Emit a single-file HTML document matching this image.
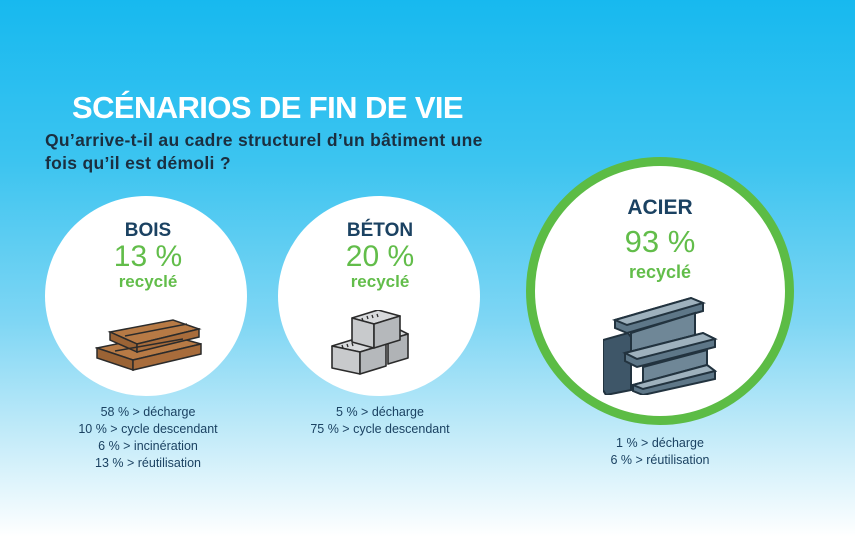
<!DOCTYPE html>
<html><head><meta charset="utf-8"><style>
*{margin:0;padding:0}
body{width:855px;height:537px;overflow:hidden;position:relative;font-family:"Liberation Sans",sans-serif;
background:linear-gradient(180deg,#17b9ef 0%,#3cc4f0 30%,#7fd6f4 60%,#c6ecf9 82%,#ffffff 100%);}
.a{position:absolute}
.t{position:absolute;text-align:center;white-space:nowrap}
.circ{position:absolute;border-radius:50%;background:#fff;box-sizing:border-box}
.h{color:#1b4262;font-weight:bold}
.p{color:#62bd4a}
.r{color:#62bd4a;font-weight:bold}
.s{color:#1b4262;font-size:12.5px;line-height:17px}
</style></head><body>
<div class="a" style="left:72px;top:90px;font-size:31px;font-weight:bold;color:#fff;letter-spacing:-0.6px">SCÉNARIOS DE FIN DE VIE</div>
<div class="a" style="left:45px;top:129px;font-size:17.5px;font-weight:bold;color:#1b2f40;line-height:23px;letter-spacing:0.3px">Qu’arrive-t-il au cadre structurel d’un bâtiment une<br>fois qu’il est démoli ?</div>

<div class="circ" style="left:45px;top:196px;width:202px;height:200px"></div>
<div class="circ" style="left:278px;top:196px;width:202px;height:200px"></div>
<div class="circ" style="left:526px;top:157px;width:268px;height:268px;border:9px solid #5cbc45"></div>

<div class="t h" style="left:48px;width:200px;top:220px;font-size:19px">BOIS</div>
<div class="t p" style="left:48px;width:200px;top:240px;font-size:30px">13 %</div>
<div class="t r" style="left:48px;width:200px;top:272px;font-size:17px">recyclé</div>

<div class="t h" style="left:280px;width:200px;top:220px;font-size:19px">BÉTON</div>
<div class="t p" style="left:280px;width:200px;top:240px;font-size:30px">20 %</div>
<div class="t r" style="left:280px;width:200px;top:272px;font-size:17px">recyclé</div>

<div class="t h" style="left:560px;width:200px;top:196px;font-size:21px">ACIER</div>
<div class="t p" style="left:560px;width:200px;top:224px;font-size:31px">93 %</div>
<div class="t r" style="left:560px;width:200px;top:262px;font-size:18px">recyclé</div>

<svg class="a" style="left:95px;top:318px" width="110" height="56" viewBox="0 0 110 56">
<g stroke="#2b2b2b" stroke-width="1.5" fill="#b77a45">
<polygon points="2,30 70,16 106,26 38,42"/>
<polygon points="2,30 38,42 38,52 2,40" fill="#9a6335"/>
<polygon points="38,42 106,26 106,36 38,52" fill="#a86c3b"/>
<polygon points="15,14 78,2 104,11 42,26"/>
<polygon points="15,14 42,26 42,34 15,22" fill="#9a6335"/>
<polygon points="42,26 104,11 104,19 42,34" fill="#a86c3b"/>
<line x1="30" y1="18" x2="92" y2="6" fill="none"/>
<line x1="20" y1="33" x2="88" y2="21" fill="none"/>
</g></svg>

<svg class="a" style="left:330px;top:310px" width="82" height="68" viewBox="0 0 82 68">
<g stroke="#2b2b2b" stroke-width="1.6" stroke-linejoin="round">
<polygon points="50,26 70,20 78,24 58,30" fill="#d8dadc"/>
<polygon points="58,30 78,24 78,48 58,54" fill="#b0b3b6"/>
<polygon points="2,36 28,28 56,34 30,42" fill="#d8dadc"/>
<polygon points="2,36 30,42 30,64 2,58" fill="#c8cacc"/>
<polygon points="30,42 56,34 56,56 30,64" fill="#b5b8bb"/>
<polygon points="22,8 48,0 70,6 44,14" fill="#d8dadc"/>
<polygon points="22,8 44,14 44,38 22,32" fill="#c8cacc"/>
<polygon points="44,14 70,6 70,30 44,38" fill="#b5b8bb"/>
<g stroke-width="1.3"><line x1="32" y1="8" x2="33" y2="11"/><line x1="37" y1="6" x2="38" y2="9"/><line x1="42" y1="5" x2="43" y2="8"/><line x1="47" y1="4" x2="48" y2="7"/>
<line x1="12" y1="35" x2="13" y2="38"/><line x1="17" y1="34" x2="18" y2="37"/><line x1="22" y1="33" x2="23" y2="36"/></g>
</g></svg>

<svg class="a" style="left:603px;top:295px" width="116" height="100" viewBox="0 0 116 100">
<g stroke="#22333f" stroke-width="2">
<polygon points="0,45 25,38 28,42 28,95 3,100 0,95" fill="#3e5668"/>
<polygon points="12,25 88,3 100,8 100,16 24,38 12,33" fill="#5e7788"/>
<polygon points="12,25 88,3 100,8 24,30" fill="#9eb1bd"/>
<polygon points="28,38 92,18 92,40 28,58" fill="#6f8797"/>
<polygon points="22,58 100,38 112,44 112,52 34,72 22,66" fill="#5e7788"/>
<polygon points="22,58 100,38 112,44 34,64" fill="#9eb1bd"/>
<polygon points="40,72 104,55 104,76 40,92" fill="#6f8797"/>
<polygon points="30,90 104,70 112,76 112,84 40,100 30,96" fill="#5e7788"/>
<polygon points="30,90 104,70 112,76 40,94" fill="#9eb1bd"/>
</g></svg>

<div class="t s" style="left:48px;width:200px;top:404px">58 % &gt; décharge<br>10 % &gt; cycle descendant<br>6 % &gt; incinération<br>13 % &gt; réutilisation</div>
<div class="t s" style="left:280px;width:200px;top:404px">5 % &gt; décharge<br>75 % &gt; cycle descendant</div>
<div class="t s" style="left:560px;width:200px;top:435px">1 % &gt; décharge<br>6 % &gt; réutilisation</div>
</body></html>
